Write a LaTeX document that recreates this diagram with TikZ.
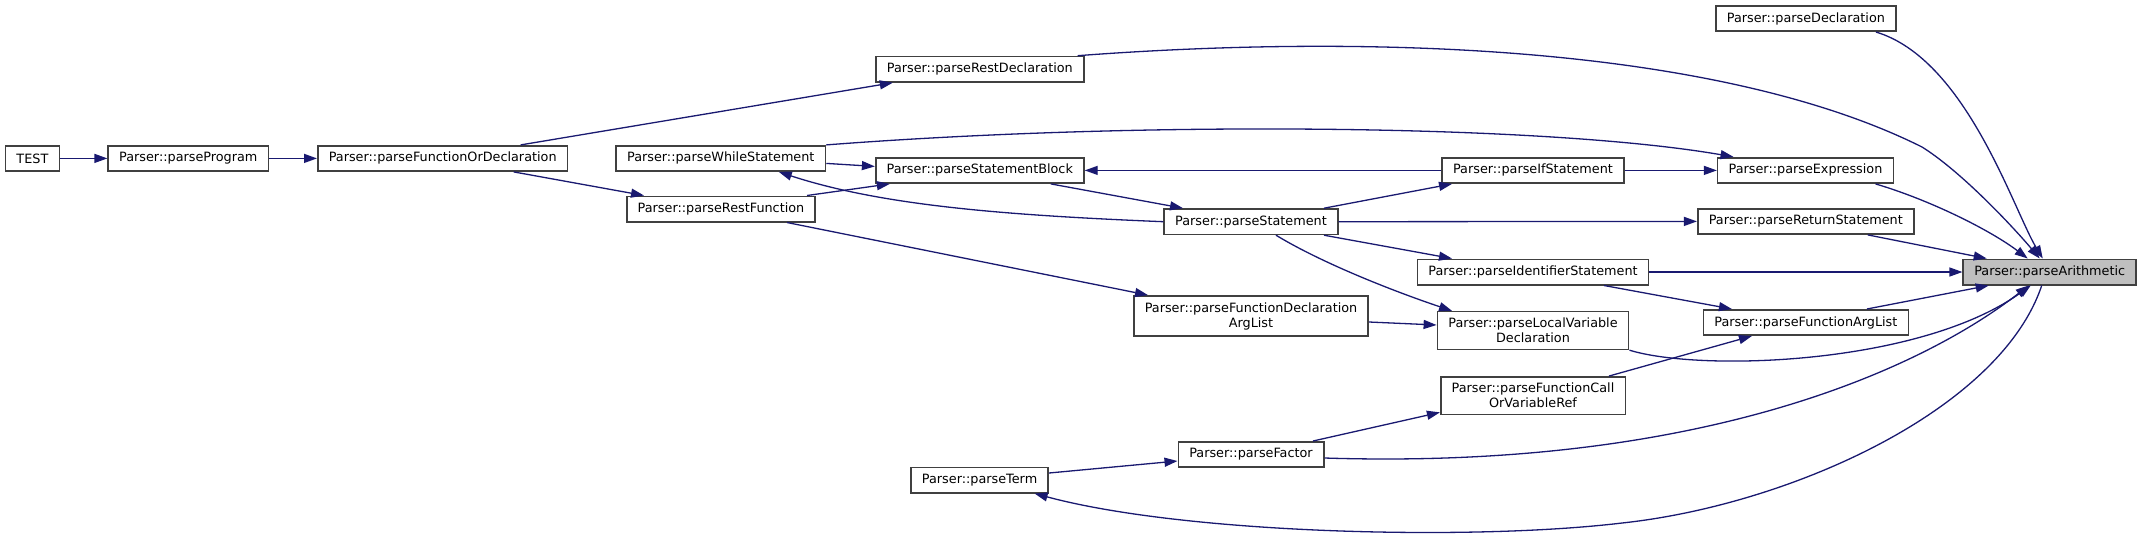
\documentclass[tikz,border=0pt]{standalone}
\usepackage{fontspec}
\setmainfont{DejaVu Sans}
\usetikzlibrary{arrows.meta}
\definecolor{edgeblue}{HTML}{191970}
\definecolor{boxgray}{HTML}{404040}
\definecolor{hilite}{HTML}{BFBFBF}

\begin{document}
\begin{tikzpicture}[x=1pt,y=-1pt,
    fn/.style={draw=boxgray,line width=1.6pt,fill=white,inner xsep=11pt,inner ysep=6.4pt,
      minimum height=25.4pt,align=center,font=\fontsize{12.8}{15}\selectfont},
    cur/.style={fn,fill=hilite},
    call/.style={draw=edgeblue,line width=1.3pt,-{Triangle[length=13pt,width=9pt]}}]
  \useasboundingbox (0,0) rectangle (2143,542);
  % Functions
  \node[fn] (test) at (32.4,158.4) {TEST};
  \node[fn] (program) at (188.3,158.4) {Parser::parseProgram};
  \node[fn] (funcOrDecl) at (442.7,158.4) {Parser::parseFunctionOrDeclaration};
  \node[fn] (restDecl) at (979.8,69.2) {Parser::parseRestDeclaration};
  \node[fn] (whileStmt) at (720.8,158.4) {Parser::parseWhileStatement};
  \node[fn] (stmtBlock) at (979.8,170.4) {Parser::parseStatementBlock};
  \node[fn] (restFunc) at (721,209) {Parser::parseRestFunction};
  \node[fn] (stmt) at (1251,221.7) {Parser::parseStatement};
  \node[fn] (ifStmt) at (1533,170.4) {Parser::parseIfStatement};
  \node[fn] (expr) at (1805.5,170.4) {Parser::parseExpression};
  \node[fn] (decl) at (1805.9,18.5) {Parser::parseDeclaration};
  \node[fn] (retStmt) at (1805.8,221.4) {Parser::parseReturnStatement};
  \node[fn] (identStmt) at (1533,272) {Parser::parseIdentifierStatement};
  \node[cur] (arith) at (2049.7,272) {Parser::parseArithmetic};
  \node[fn] (funcDeclArgs) at (1251,316) {Parser::parseFunctionDeclaration\\ArgList};
  \node[fn] (localVar) at (1533,330.5) {Parser::parseLocalVariable\\Declaration};
  \node[fn] (funcArgs) at (1805.9,322.5) {Parser::parseFunctionArgList};
  \node[fn] (callOrRef) at (1533,395.7) {Parser::parseFunctionCall\\OrVariableRef};
  \node[fn] (factor) at (1251,454.5) {Parser::parseFactor};
  \node[fn] (term) at (979.6,480) {Parser::parseTerm};
  % Calls
  \draw[call] (test.east) -- (program.west);
  \draw[call] (program.east) -- (funcOrDecl.west);
  \draw[call] ([xshift=78pt]funcOrDecl.north) -- ([xshift=-87pt]restDecl.south);
  \draw[call] ([xshift=71pt]funcOrDecl.south) -- ([xshift=-77pt]restFunc.north);
  \draw[call] ([yshift=-5pt]whileStmt.east) -- ([yshift=4pt]stmtBlock.west);
  \draw[call] ([xshift=86pt]restFunc.north) -- ([xshift=-90pt]stmtBlock.south);
  \draw[call] ([xshift=71pt]stmtBlock.south) -- ([xshift=-68pt]stmt.north);
  \draw[call] (stmt.west) .. controls (1000,215) and (880,205) .. ([xshift=58pt]whileStmt.south);
  \draw[call] ([xshift=-7pt]restDecl.north east) .. controls (1378,33) and (1722,47) .. (1922,147)
    .. controls (1962,172) and (2014,228) .. ([xshift=-10pt]arith.north);
  \draw[call] (whileStmt.north east) .. controls (1150,120) and (1550,125) .. ([xshift=-72pt]expr.north);
  \draw[call] (ifStmt.west) -- (stmtBlock.east);
  \draw[call] (ifStmt.east) -- (expr.west);
  \draw[call] ([xshift=73pt]stmt.north) -- ([xshift=-81pt]ifStmt.south);
  \draw[call] (stmt.east) -- (retStmt.west);
  \draw[call] ([xshift=73pt]stmt.south) -- ([xshift=-81pt]identStmt.north);
  \draw[call] ([xshift=25pt]stmt.south) .. controls (1320,262) and (1390,290) .. ([xshift=-81pt]localVar.north);
  \draw[call] ([xshift=70pt]decl.south) .. controls (1966,59) and (2013,209) .. ([xshift=-7pt]arith.north);
  \draw[call] ([xshift=70pt]expr.south) .. controls (1930,200) and (1990,230) .. ([xshift=-22pt]arith.north);
  \draw[call] ([xshift=62pt]retStmt.south) -- ([xshift=-63pt]arith.north);
  \draw[call] (identStmt.east) -- (arith.west);
  \draw[call] ([xshift=71pt]identStmt.south) -- ([xshift=-74pt]funcArgs.north);
  \draw[call] ([xshift=61pt]funcArgs.north) -- ([xshift=-61pt]arith.south);
  \draw[call] ([xshift=66pt]restFunc.south) -- ([xshift=-103pt]funcDeclArgs.north);
  \draw[call] ([yshift=-6pt]funcDeclArgs.east) -- ([yshift=5.5pt]localVar.west);
  \draw[call] (localVar.south east) .. controls (1700,372) and (1920,365) .. ([xshift=-19pt]arith.south);
  \draw[call] ([xshift=76pt]callOrRef.north) -- ([xshift=-54pt]funcArgs.south);
  \draw[call] ([xshift=62pt]factor.north) -- ([yshift=3pt]callOrRef.south west);
  \draw[call] ([yshift=-3.5pt]factor.east) .. controls (1700,470) and (1920,370) .. ([xshift=-21pt]arith.south);
  \draw[call] ([yshift=7pt]term.east) -- ([yshift=-6.5pt]factor.west);
  \draw[call] ([xshift=-8pt]arith.south) .. controls (2000,410) and (1790,505) .. (1622,523)
    .. controls (1472,541) and (1185,534) .. ([xshift=55pt]term.south);
\end{tikzpicture}
\end{document}
